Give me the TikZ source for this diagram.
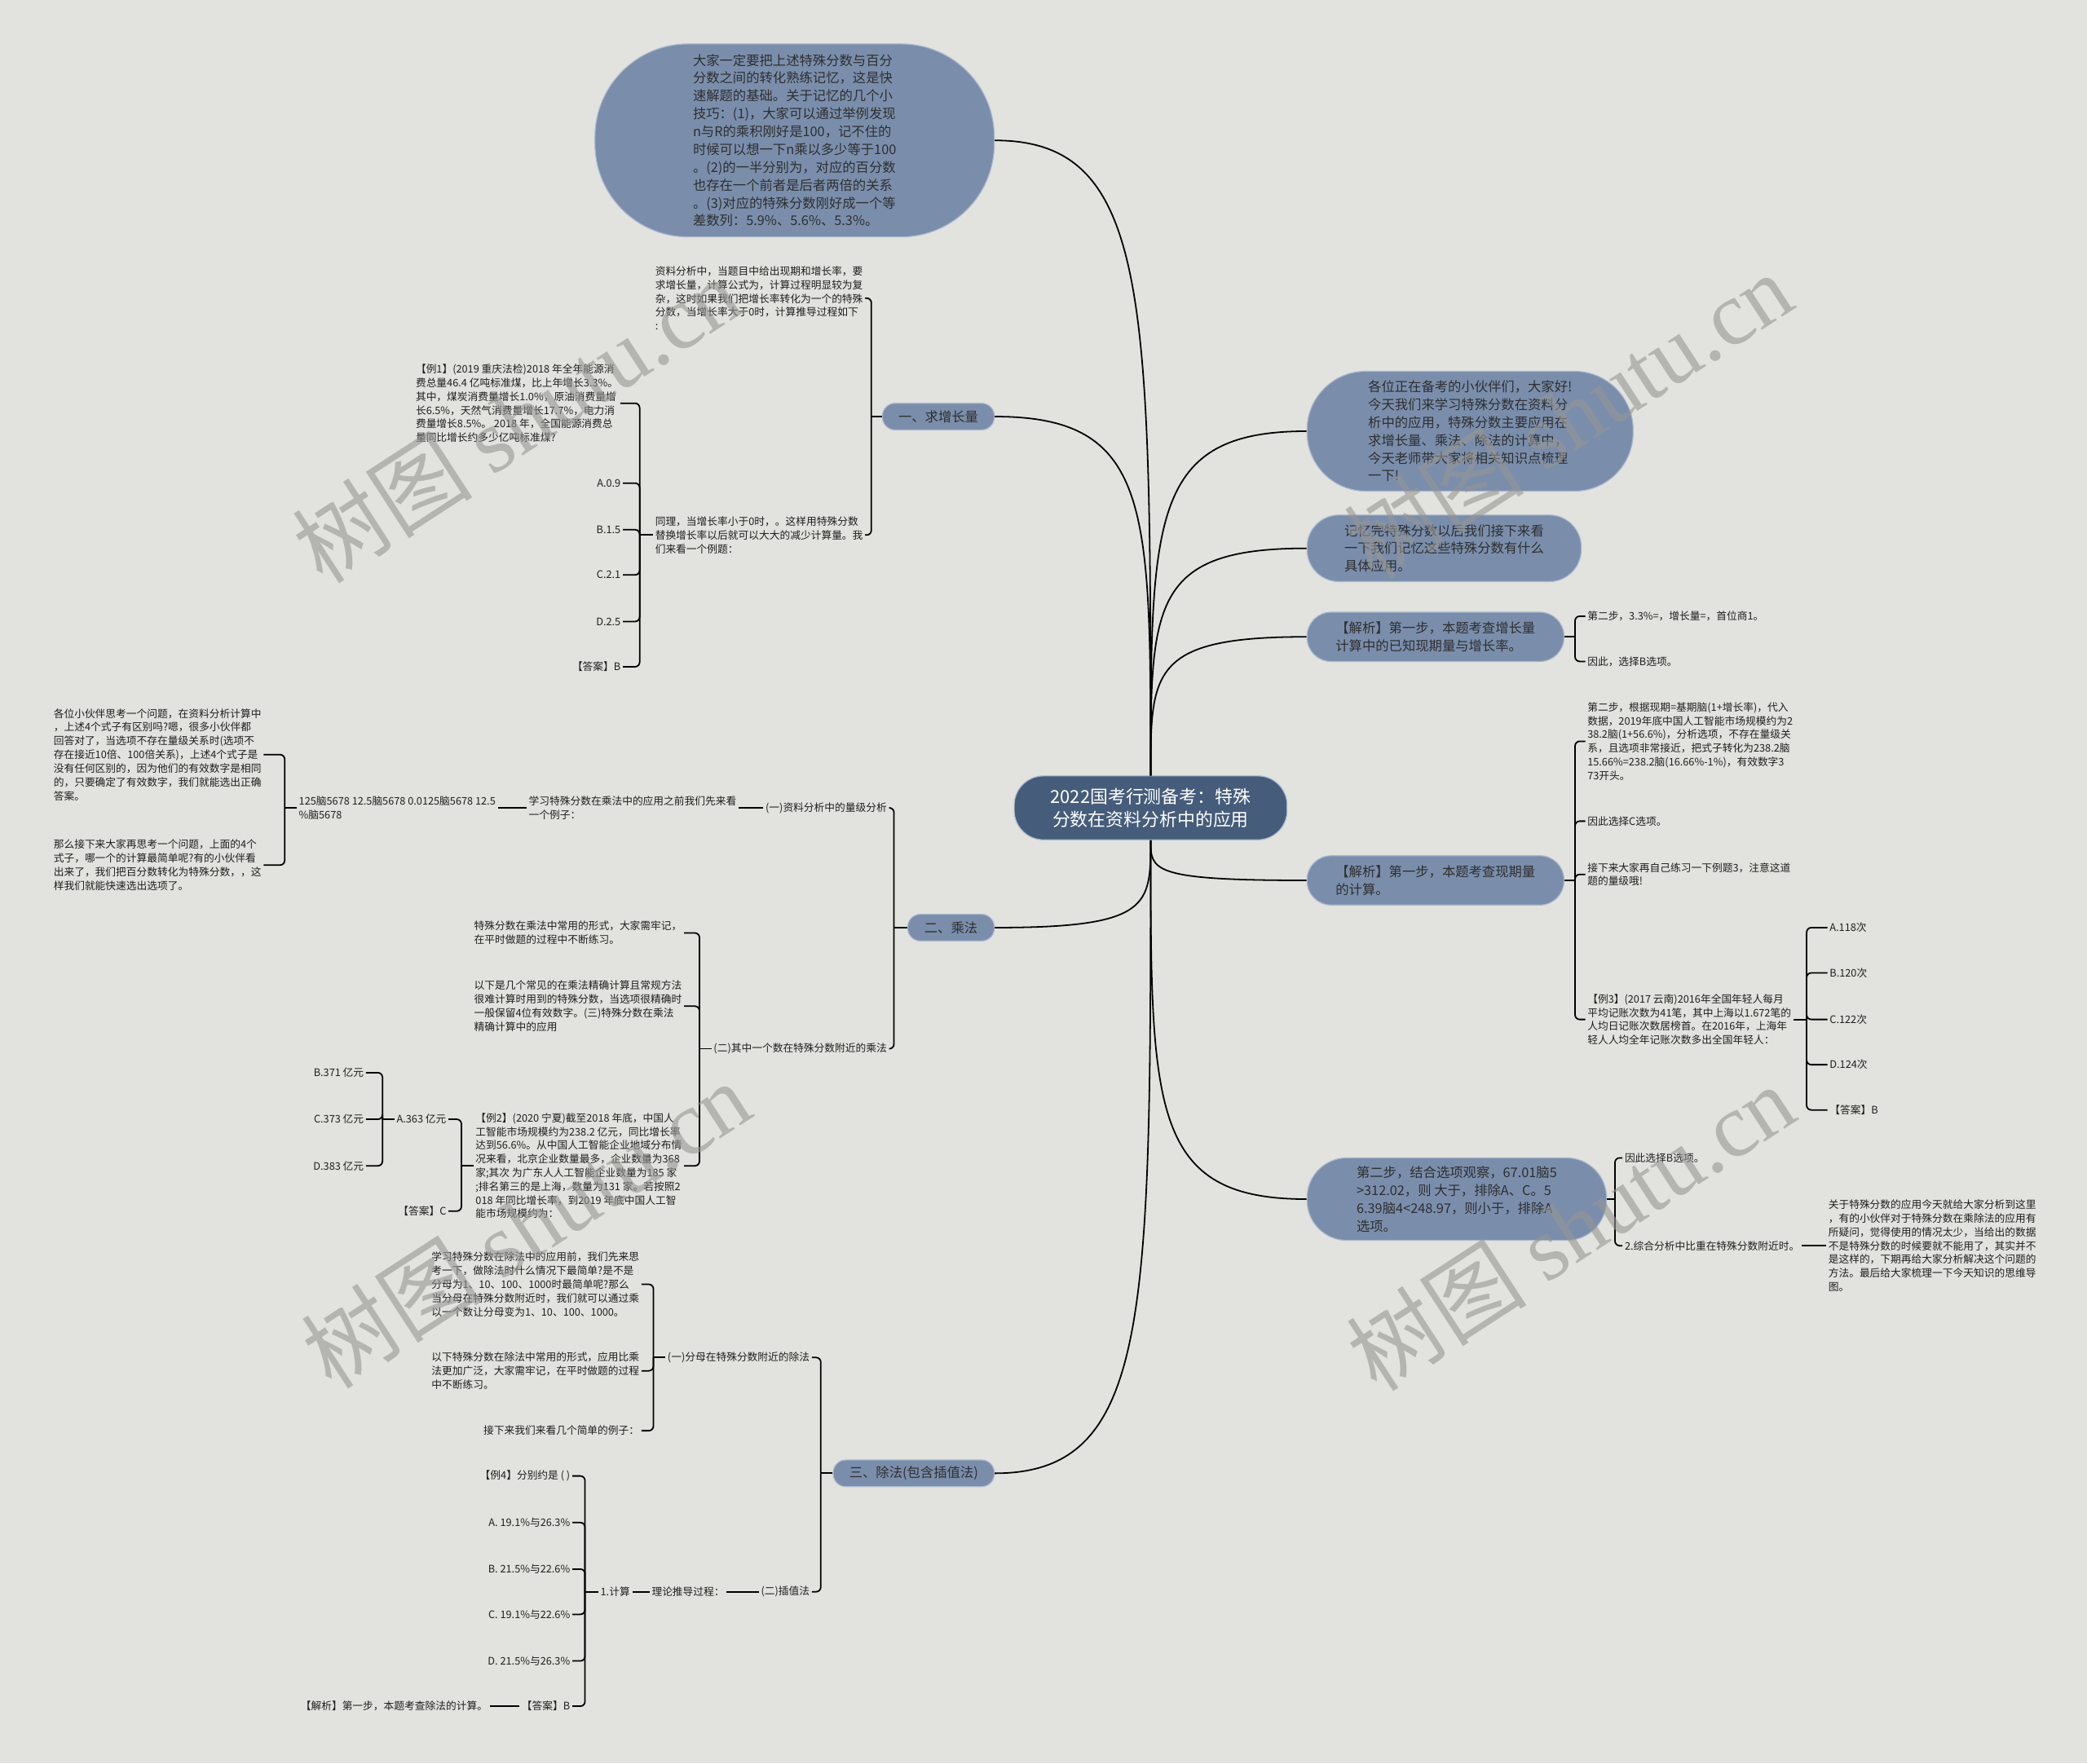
\documentclass[tikz,border=0pt]{standalone}
\usepackage{fontspec}
\setmainfont{Noto Sans CJK SC}
\newfontfamily\wmlatin{Liberation Serif}
\usetikzlibrary{calc}
\definecolor{paper}{RGB}{226,226,222}
\definecolor{bubblefill}{RGB}{122,142,172}
\definecolor{bubbleedge}{RGB}{168,184,206}
\definecolor{rootfill}{RGB}{69,92,122}
\definecolor{inkgray}{RGB}{30,30,30}
\definecolor{markgray}{RGB}{150,150,148}
\tikzset{
  link/.style={draw=black, line width=1.1pt},
  hook/.style={link, rounded corners=3.5pt},
  mapcurve/.style={to path={.. controls ($(\tikztostart)!0.75!(\tikztostart |- \tikztotarget)$) and (\tikztostart |- \tikztotarget) .. (\tikztotarget)}},
  bubble/.style={rectangle, rounded corners=#1, fill=bubblefill, draw=bubbleedge, line width=0.7pt, text=black!82, align=left, font=\fontsize{10}{13.4}\selectfont},
  twig/.style={font=\fontsize{7.8}{10.3}\selectfont, text=inkgray, inner sep=1.5pt, align=left},
  stamp/.style={font=\fontsize{68}{68}\selectfont, text=markgray, text opacity=0.6, rotate=33},
}
\begin{document}
\begin{tikzpicture}[x=1pt,y=1pt]
% fond
\fill[paper] (0,0) rectangle (1568,-1325);

% centre et branches principales
\node[bubble=22pt, fill=rootfill, text=white, align=center, minimum width=205pt, minimum height=48pt, font=\fontsize{13.4}{17}\selectfont] (root) at (864.5,-607) {2022国考行测备考：特殊\\分数在资料分析中的应用};
\node[bubble=70pt, minimum width=300pt, minimum height=145pt] (memo) at (597,-105.5) {大家一定要把上述特殊分数与百分\\分数之间的转化熟练记忆，这是快\\速解题的基础。关于记忆的几个小\\技巧：(1)，大家可以通过举例发现\\n与R的乘积刚好是100，记不住的\\时候可以想一下n乘以多少等于100\\。(2)的一半分别为，对应的百分数\\也存在一个前者是后者两倍的关系\\。(3)对应的特殊分数刚好成一个等\\差数列：5.9\%、5.6\%、5.3\%。};
\node[bubble=44pt, minimum width=245pt, minimum height=90pt] (hello) at (1104.5,-324) {各位正在备考的小伙伴们，大家好!\\今天我们来学习特殊分数在资料分\\析中的应用，特殊分数主要应用在\\求增长量、乘法、除法的计算中，\\今天老师带大家将相关知识点梳理\\一下!};
\node[bubble=24pt, minimum width=206pt, minimum height=50pt] (next) at (1085,-412) {记忆完特殊分数以后我们接下来看\\一下我们记忆这些特殊分数有什么\\具体应用。};
\node[bubble=18pt, minimum width=193pt, minimum height=37pt] (jx1) at (1078.5,-478.5) {【解析】第一步，本题考查增长量\\计算中的已知现期量与增长率。};
\node[bubble=18pt, minimum width=193pt, minimum height=37pt] (jx2) at (1078.5,-661.5) {【解析】第一步，本题考查现期量\\的计算。};
\node[bubble=30pt, minimum width=225pt, minimum height=62pt] (step2) at (1094.5,-901) {第二步，结合选项观察，67.01脑5\\>312.02，则 大于，排除A、C。5\\6.39脑4<248.97，则小于，排除A\\选项。};
\node[bubble=9.5pt, minimum width=84pt, minimum height=20pt] (grow) at (705,-313) {一、求增长量};
\node[bubble=9.5pt, minimum width=65pt, minimum height=20pt] (mult) at (714.5,-697) {二、乘法};
\node[bubble=9.5pt, minimum width=121pt, minimum height=20pt] (divi) at (686.5,-1107) {三、除法(包含插值法)};

\foreach \n in {memo,grow} \draw[link] (root.north) to[mapcurve] (\n.east);
\foreach \n in {hello,next,jx1} \draw[link] (root.north) to[mapcurve] (\n.west);
\foreach \n in {mult,divi} \draw[link] (root.south) to[mapcurve] (\n.east);
\foreach \n in {jx2,step2} \draw[link] (root.south) to[mapcurve] (\n.west);

% 一、求增长量
\node[twig, anchor=east] (a1) at (650,-224) {资料分析中，当题目中给出现期和增长率，要\\求增长量，计算公式为，计算过程明显较为复\\杂，这时如果我们把增长率转化为一个的特殊\\分数，当增长率大于0时，计算推导过程如下\\:};
\node[twig, anchor=east] (a2) at (650,-402) {同理，当增长率小于0时，。这样用特殊分数\\替换增长率以后就可以大大的减少计算量。我\\们来看一个例题：};
\draw[link] (grow.west) -- ++(-8,0) coordinate (growj);
\foreach \k in {a1,a2} \draw[hook] (growj) |- (\k.east);
\node[twig, anchor=east] (ex1) at (466,-303) {【例1】(2019 重庆法检)2018 年全年能源消\\费总量46.4 亿吨标准煤，比上年增长3.3\%。\\其中，煤炭消费量增长1.0\%，原油消费量增\\长6.5\%，天然气消费量增长17.7\%，电力消\\费量增长8.5\%。 2018 年，全国能源消费总\\量同比增长约多少亿吨标准煤?};
\foreach \t/\y [count=\i] in {A.0.9/363, B.1.5/398, C.2.1/432, D.2.5/467, 【答案】B/501}
  \node[twig, anchor=east] (qa\i) at (468,-\y) {\t};
\draw[link] (a2.west) -- ++(-10,0) coordinate (a2j);
\draw[hook] (a2j) |- (ex1.east);
\foreach \i in {1,...,5} \draw[hook] (a2j) |- (qa\i.east);

% 二、乘法
\node[twig, anchor=east] (scale) at (668,-607) {(一)资料分析中的量级分析};
\node[twig, anchor=east] (near) at (668,-788) {(二)其中一个数在特殊分数附近的乘法};
\draw[link] (mult.west) -- ++(-10,0) coordinate (multj);
\foreach \k in {scale,near} \draw[hook] (multj) |- (\k.east);
\node[twig, anchor=east] (look) at (555,-607) {学习特殊分数在乘法中的应用之前我们先来看\\一个例子：};
\draw[link] (scale.west) -- (look.east);
\node[twig, anchor=east] (four) at (374,-607) {125脑5678 12.5脑5678 0.0125脑5678 12.5\\\%脑5678};
\draw[link] (look.west) -- (four.east);
\node[twig, anchor=east] (think1) at (198,-567) {各位小伙伴思考一个问题，在资料分析计算中\\，上述4个式子有区别吗?嗯，很多小伙伴都\\回答对了，当选项不存在量级关系时(选项不\\存在接近10倍、100倍关系)，上述4个式子是\\没有任何区别的，因为他们的有效数字是相同\\的，只要确定了有效数字，我们就能选出正确\\答案。};
\node[twig, anchor=east] (think2) at (198,-650) {那么接下来大家再思考一个问题，上面的4个\\式子，哪一个的计算最简单呢?有的小伙伴看\\出来了，我们把百分数转化为特殊分数，，这\\样我们就能快速选出选项了。};
\draw[link] (four.west) -- ++(-9,0) coordinate (fourj);
\foreach \k in {think1,think2} \draw[hook] (fourj) |- (\k.east);
\node[twig, anchor=east] (form1) at (514,-701) {特殊分数在乘法中常用的形式，大家需牢记，\\在平时做题的过程中不断练习。};
\node[twig, anchor=east] (exact) at (514,-756) {以下是几个常见的在乘法精确计算且常规方法\\很难计算时用到的特殊分数，当选项很精确时\\一般保留4位有效数字。(三)特殊分数在乘法\\精确计算中的应用};
\node[twig, anchor=east] (ex2) at (514,-876) {【例2】(2020 宁夏)截至2018 年底，中国人\\工智能市场规模约为238.2 亿元，同比增长率\\达到56.6\%。从中国人工智能企业地域分布情\\况来看，北京企业数量最多，企业数量为368\\ 家;其次 为广东人人工智能企业数量为185 家\\;排名第三的是上海，数量为131 家。若按照2\\018 年同比增长率，到2019 年底中国人工智\\能市场规模约为：};
\draw[link] (near.west) -- ++(-9,0) coordinate (nearj);
\foreach \k in {form1,exact,ex2} \draw[hook] (nearj) |- (\k.east);
\node[twig, anchor=east] (qb0) at (337,-841) {A.363 亿元};
\node[twig, anchor=east] (ans2) at (337,-910) {【答案】C};
\draw[link] (ex2.west) -- ++(-9,0) coordinate (ex2j);
\foreach \k in {qb0,ans2} \draw[hook] (ex2j) |- (\k.east);
\foreach \t/\y [count=\i] in {B.371 亿元/806, C.373 亿元/841, D.383 亿元/876}
  \node[twig, anchor=east] (qb\i) at (275,-\y) {\t};
\draw[link] (qb0.west) -- ++(-9,0) coordinate (qb0j);
\foreach \i in {1,2,3} \draw[hook] (qb0j) |- (qb\i.east);

% 三、除法
\node[twig, anchor=east] (denom) at (610,-1020) {(一)分母在特殊分数附近的除法};
\node[twig, anchor=east] (interp) at (610,-1196) {(二)插值法};
\draw[link] (divi.west) -- ++(-9,0) coordinate (divij);
\foreach \k in {denom,interp} \draw[hook] (divij) |- (\k.east);
\node[twig, anchor=east] (first) at (482,-965) {学习特殊分数在除法中的应用前，我们先来思\\考一下，做除法时什么情况下最简单?是不是\\分母为1、10、100、1000时最简单呢?那么\\当分母在特殊分数附近时，我们就可以通过乘\\以一个数让分母变为1、10、100、1000。};
\node[twig, anchor=east] (form2) at (482,-1030) {以下特殊分数在除法中常用的形式，应用比乘\\法更加广泛，大家需牢记，在平时做题的过程\\中不断练习。};
\node[twig, anchor=east] (simple) at (482,-1075) {接下来我们来看几个简单的例子：};
\draw[link] (denom.west) -- ++(-9,0) coordinate (denomj);
\foreach \k in {first,form2,simple} \draw[hook] (denomj) |- (\k.east);
\node[twig, anchor=east] (derive) at (546,-1196) {理论推导过程：};
\node[twig, anchor=east] (compute) at (475,-1196) {1.计算};
\draw[link] (interp.west) -- (derive.east);
\draw[link] (derive.west) -- (compute.east);
\foreach \t/\y [count=\i] in {【例4】分别约是 ( )/1109, A. 19.1\%与26.3\%/1144, B. 21.5\%与22.6\%/1179, C. 19.1\%与22.6\%/1213, D. 21.5\%与26.3\%/1248, 【答案】B/1282}
  \node[twig, anchor=east] (qd\i) at (430,-\y) {\t};
\draw[link] (compute.west) -- ++(-10,0) coordinate (computej);
\foreach \i in {1,...,6} \draw[hook] (computej) |- (qd\i.east);
\node[twig, anchor=east] (why4) at (368,-1282) {【解析】第一步，本题考查除法的计算。};
\draw[link] (qd6.west) -- (why4.east);

% droite
\node[twig, anchor=west] (s2a) at (1191,-463) {第二步，3.3\%=，增长量=，首位商1。};
\node[twig, anchor=west] (s2b) at (1191,-497) {因此，选择B选项。};
\draw[link] (jx1.east) -- ++(8,0) coordinate (jx1j);
\foreach \k in {s2a,s2b} \draw[hook] (jx1j) |- (\k.west);
\node[twig, anchor=west] (base) at (1191,-557) {第二步，根据现期=基期脑(1+增长率)，代入\\数据，2019年底中国人工智能市场规模约为2\\38.2脑(1+56.6\%)，分析选项，不存在量级关\\系，且选项非常接近，把式子转化为238.2脑\\15.66\%=238.2脑(16.66\%-1\%)，有效数字3\\73开头。};
\node[twig, anchor=west] (pickc) at (1191,-617) {因此选择C选项。};
\node[twig, anchor=west] (try3) at (1191,-657) {接下来大家再自己练习一下例题3，注意这道\\题的量级哦!};
\node[twig, anchor=west] (ex3) at (1191,-766) {【例3】(2017 云南)2016年全国年轻人每月\\平均记账次数为41笔，其中上海以1.672笔的\\人均日记账次数居榜首。在2016年，上海年\\轻人人均全年记账次数多出全国年轻人：};
\draw[link] (jx2.east) -- ++(8,0) coordinate (jx2j);
\foreach \k in {base,pickc,try3,ex3} \draw[hook] (jx2j) |- (\k.west);
\foreach \t/\y [count=\i] in {A.118次/697, B.120次/731, C.122次/766, D.124次/800, 【答案】B/834}
  \node[twig, anchor=west] (qc\i) at (1373,-\y) {\t};
\draw[link] (ex3.east) -- ++(10,0) coordinate (ex3j);
\foreach \i in {1,...,5} \draw[hook] (ex3j) |- (qc\i.west);
\node[twig, anchor=west] (pickb) at (1219,-870) {因此选择B选项。};
\node[twig, anchor=west] (ratio) at (1219,-936) {2.综合分析中比重在特殊分数附近时。};
\draw[link] (step2.east) -- ++(6,0) coordinate (step2j);
\foreach \k in {pickb,ratio} \draw[hook] (step2j) |- (\k.west);
\node[twig, anchor=west] (wrap) at (1372,-936) {关于特殊分数的应用今天就给大家分析到这里\\，有的小伙伴对于特殊分数在乘除法的应用有\\所疑问，觉得使用的情况太少，当给出的数据\\不是特殊分数的时候要就不能用了，其实并不\\是这样的，下期再给大家分析解决这个问题的\\方法。最后给大家梳理一下今天知识的思维导\\图。};
\draw[link] (ratio.east) -- (wrap.west);

% filigrane
\foreach \p [count=\i] in {(388,-315),(1178,-312),(395,-920),(1180,-922)}
  \node[stamp] (mark\i) at \p {树图 {\wmlatin shutu.cn}};
\end{tikzpicture}
\end{document}
